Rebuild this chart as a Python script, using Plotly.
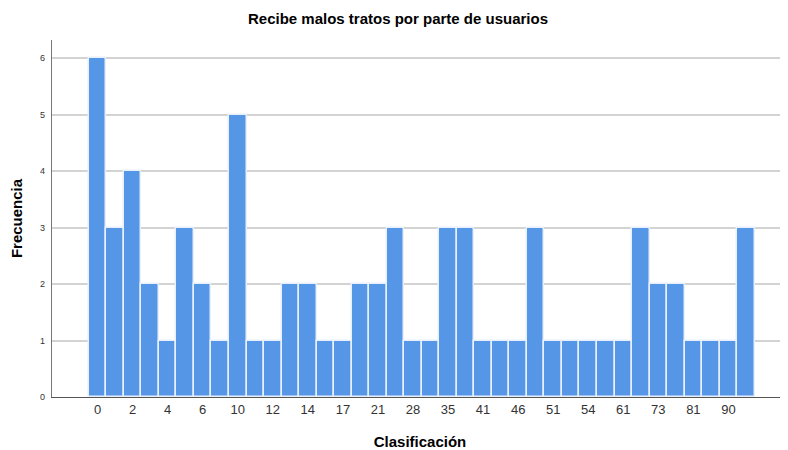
import plotly.graph_objects as go

categories = ["0", "1", "2", "3", "4", "5", "6", "8", "10", "11", "12", "13", "14", "15",
              "17", "20", "21", "25", "28", "30", "35", "40", "41", "45", "46", "50", "51",
              "52", "54", "60", "61", "70", "73", "80", "81", "85", "90", "95"]
frecuencia = [6, 3, 4, 2, 1, 3, 2, 1, 5, 1, 1, 2, 2, 1, 1, 2, 2, 3, 1, 1, 3, 3, 1, 1, 1,
              3, 1, 1, 1, 1, 1, 3, 2, 2, 1, 1, 1, 3]
shown_ticks = categories[::2]

fig = go.Figure(go.Bar(
    x=categories, y=frecuencia,
    marker=dict(color="#5596E6", line=dict(color="#E8F0FB", width=1.5)),
    hovertemplate="%{x}: %{y}<extra></extra>",
))

# page body has an 8px margin, so the figure is sized to fit the 788x450 window
fig.update_layout(
    width=780, height=442,
    margin=dict(l=44, r=0, t=32, b=53, autoexpand=False),
    paper_bgcolor="white", plot_bgcolor="white",
    bargap=0,
    showlegend=False,
    font=dict(family="Liberation Sans, Arial, sans-serif", color="#333333"),
    title=dict(text="<b>Recibe malos tratos por parte de usuarios</b>",
               x=0.5, xanchor="center", y=1 - 11 / 442, yanchor="middle",
               font=dict(size=15, color="#000000")),
    xaxis=dict(
        type="category",
        range=[-2.6, 39.4],
        tickmode="array", tickvals=shown_ticks, ticktext=shown_ticks,
        tickfont=dict(size=13, color="#333333"),
        ticks="", showgrid=False,
        showline=True, linecolor="#555555", linewidth=1.2,
        automargin=False,
        title=dict(text="<b>Clasificación</b>", font=dict(size=15, color="#000000"), standoff=20),
    ),
    yaxis=dict(
        range=[0, 6.32],
        tickvals=[0, 1, 2, 3, 4, 5, 6],
        tickfont=dict(size=9, color="#333333"),
        ticks="", ticklabelstandoff=4,
        showgrid=True, gridcolor="#D3D3D3", gridwidth=1.5,
        showline=True, linecolor="#777777", linewidth=1.2,
        zeroline=False, automargin=False,
        title=dict(text="<b>Frecuencia</b>", font=dict(size=15, color="#000000"), standoff=13),
    ),
)

fig.write_html("out.html")
